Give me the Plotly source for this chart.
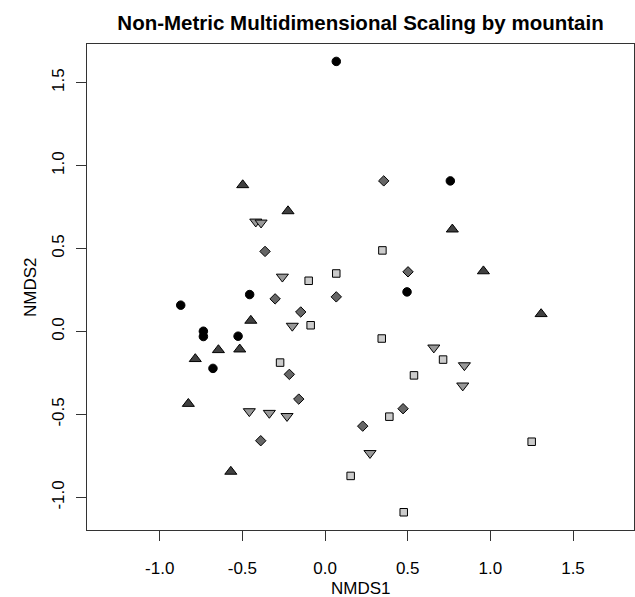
import plotly.graph_objects as go

# NMDS scores by mountain group
g1_x = [0.068, 0.758, -0.456, 0.496, -0.873, -0.736, -0.736, -0.526, -0.678]
g1_y = [1.628, 0.908, 0.223, 0.239, 0.159, 0.002, -0.030, -0.028, -0.222]

g2_x = [-0.498, -0.224, 0.770, 0.958, -0.449, -0.645, -0.516, -0.785, -0.827, -0.570, 1.307]
g2_y = [0.883, 0.726, 0.616, 0.364, 0.066, -0.111, -0.107, -0.165, -0.435, -0.844, 0.106]

g3_x = [-0.363, -0.302, 0.068, 0.355, 0.502, -0.147, -0.216, -0.159, -0.389, 0.472, 0.228]
g3_y = [0.483, 0.197, 0.209, 0.908, 0.360, 0.118, -0.258, -0.407, -0.658, -0.465, -0.570]

g4_x = [-0.419, -0.387, -0.258, -0.198, -0.458, -0.337, -0.230, 0.658, 0.843, 0.833, 0.272]
g4_y = [0.662, 0.656, 0.330, 0.034, -0.481, -0.491, -0.510, -0.097, -0.204, -0.326, -0.733]

g5_x = [-0.099, 0.068, 0.347, -0.087, -0.272, 0.155, 0.343, 0.714, 0.538, 0.389, 1.250, 0.476]
g5_y = [0.306, 0.350, 0.489, 0.038, -0.187, -0.870, -0.042, -0.169, -0.264, -0.513, -0.664, -1.089]

tick_vals = [-1.0, -0.5, 0.0, 0.5, 1.0, 1.5]
tick_text = ["-1.0", "-0.5", "0.0", "0.5", "1.0", "1.5"]

FONT = "Liberation Sans, Arial, Helvetica, sans-serif"

groups = [
    (g1_x, g1_y, "circle", "#000000", 8.5),
    (g2_x, g2_y, "triangle-up", "#404040", 10.5),
    (g3_x, g3_y, "diamond", "#666666", 8),
    (g4_x, g4_y, "triangle-down", "#999999", 10.5),
    (g5_x, g5_y, "square", "#cccccc", 7.5),
]

fig = go.Figure()
for gx, gy, sym, col, sz in groups:
    fig.add_trace(go.Scatter(
        x=gx, y=gy, mode="markers",
        marker=dict(symbol=sym, color=col, size=sz,
                    line=dict(color="#000000", width=1)),
        showlegend=False, hoverinfo="x+y",
    ))

axis_common = dict(
    showgrid=False, zeroline=False,
    showline=True, mirror=True, linecolor="#333333", linewidth=1,
    ticks="outside", ticklen=10, tickcolor="#333333", tickwidth=1,
    tickmode="array", tickvals=tick_vals, ticktext=tick_text,
    tickfont=dict(family=FONT, size=17, color="#000000"),
)

fig.update_xaxes(range=[-1.440, 1.869], ticklabelstandoff=13, **axis_common)
fig.update_yaxes(range=[-1.196, 1.733], tickangle=-90, ticklabelstandoff=5, **axis_common)

fig.update_layout(
    width=635, height=597,
    margin=dict(l=87, r=1, t=44, b=67),
    paper_bgcolor="white", plot_bgcolor="white",
    title=dict(text="<b>Non-Metric Multidimensional Scaling by mountain</b>",
               x=0.5, xref="paper", xanchor="center",
               y=1 - 23 / 597, yref="container", yanchor="middle",
               font=dict(family=FONT, size=20.5, color="#000000")),
    annotations=[
        dict(text="NMDS1", xref="paper", yref="paper", x=0.5, y=0,
             xanchor="center", yanchor="middle", yshift=-58, showarrow=False,
             font=dict(family=FONT, size=17, color="#000000")),
        dict(text="NMDS2", xref="paper", yref="paper", x=0, y=0.5,
             xanchor="center", yanchor="middle", xshift=-57, textangle=-90,
             showarrow=False,
             font=dict(family=FONT, size=17, color="#000000")),
    ],
)

fig.write_html("out.html", config={"displayModeBar": False},
               post_script="document.body.style.margin='0px';")
